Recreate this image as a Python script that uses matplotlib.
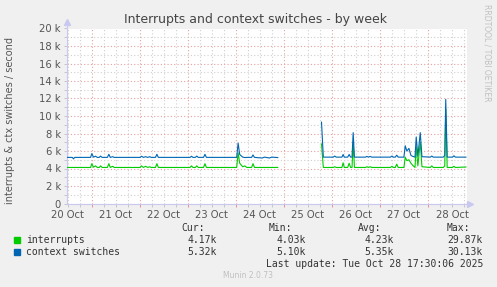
import numpy as np
import matplotlib.pyplot as plt
from matplotlib.ticker import MultipleLocator, FixedLocator, NullFormatter

# time in days since 20 Oct 00:00, values in ops / second
t_part1 = [0.479, 0.60, 0.625, 0.65, 0.98, 1.006, 1.04, 1.083, 1.12, 1.16, 1.1875, 1.22,
           1.33, 1.36, 1.39, 1.44, 1.47, 2.01, 2.04, 2.08, 2.125, 2.17, 2.21, 2.24,
           2.33, 2.36, 2.39, 3.05, 3.08, 3.11, 3.16, 3.19, 3.22, 3.33, 3.36, 3.39,
           4.02, 4.05, 4.083, 4.146, 4.19, 4.23, 4.33, 4.36, 4.39, 4.55, 4.6, 4.7, 4.75, 4.875]
ctx_part1 = [5270, 5270, 5100, 5270, 5270, 5700, 5300, 5400, 5270, 5270, 5420, 5270,
             5270, 5620, 5270, 5350, 5270, 5270, 5400, 5270, 5350, 5270, 5350, 5270,
             5270, 5620, 5270, 5270, 5400, 5270, 5270, 5420, 5270, 5270, 5620, 5270,
             5270, 6900, 5600, 5300, 5250, 5270, 5270, 5550, 5270, 5200, 5300, 5200, 5300, 5250]
int_part1 = [4120, 4120, 4120, 4120, 4120, 4550, 4150, 4300, 4120, 4120, 4300, 4120,
             4120, 4550, 4120, 4250, 4120, 4120, 4300, 4120, 4250, 4120, 4200, 4120,
             4120, 4550, 4120, 4120, 4300, 4120, 4120, 4300, 4120, 4120, 4550, 4120,
             4120, 5800, 4600, 4200, 4300, 4120, 4120, 4550, 4120, 4120, 4120, 4120, 4120, 4120]

t_part2 = [5.785, 5.823, 6.03, 6.06, 6.09, 6.21, 6.235, 6.26, 6.33, 6.36, 6.39, 6.42, 6.444,
           6.47, 6.7, 6.73, 6.76, 6.8, 6.83, 7.22, 7.25, 7.28, 7.32, 7.35, 7.38, 7.5,
           7.527, 7.56, 7.604, 7.646, 7.677, 7.73, 7.756, 7.79, 7.84, 7.875, 8.05, 8.08,
           8.11, 8.32, 8.35, 8.37, 8.40, 8.51, 8.54, 8.57, 8.79]
ctx_part2 = [9300, 5300, 5300, 5420, 5300, 5300, 5600, 5300, 5300, 5600, 5300, 5300, 8100,
             5300, 5300, 5380, 5300, 5380, 5300, 5300, 5420, 5300, 5300, 5520, 5300, 5300,
             6600, 6000, 6300, 5500, 5400, 5300, 7600, 5400, 8100, 5350, 5300, 5420,
             5300, 5300, 5500, 11900, 5300, 5300, 5450, 5300, 5300]
int_part2 = [6800, 4120, 4120, 4200, 4120, 4120, 4650, 4120, 4120, 4600, 4120, 4120, 7000,
             4120, 4120, 4200, 4120, 4200, 4120, 4120, 4250, 4120, 4120, 4500, 4120, 4120,
             5300, 4900, 5000, 4600, 4400, 4120, 6500, 4300, 7000, 4200, 4120, 4300,
             4120, 4120, 4300, 10800, 4120, 4120, 4250, 4120, 4170]

days = ['20 Oct', '21 Oct', '22 Oct', '23 Oct', '24 Oct', '25 Oct', '26 Oct', '27 Oct', '28 Oct']

series = ['interrupts', 'context switches']
cur = ['4.17k', '5.32k']
vmin = ['4.03k', '5.10k']
avg = ['4.23k', '5.35k']
vmax = ['29.87k', '30.13k']
colors = ['#00cc00', '#0066b3']

W, H = 497, 287
fig = plt.figure(figsize=(W / 100, H / 100), dpi=100, facecolor='#f0f0f0')
ax = fig.add_axes([66.5 / W, (H - 203.5) / H, 400.5 / W, 175 / H])
ax.set_facecolor('white')

gap = [np.nan]
t_all = t_part1 + [5.0] + t_part2
ax.plot(t_all, int_part1 + gap + int_part2, color=colors[0], lw=0.8, zorder=3)
ax.plot(t_all, ctx_part1 + gap + ctx_part2, color=colors[1], lw=0.8, zorder=4)

ax.set_xlim(0.479, 8.8125)
ax.set_ylim(0, 20000)

ax.yaxis.set_major_locator(MultipleLocator(2000))
ax.yaxis.set_minor_locator(MultipleLocator(1000))
ax.set_yticklabels([f'{int(v / 1000)} k' if v > 0 else '0' for v in ax.get_yticks()])
ax.xaxis.set_major_locator(FixedLocator(np.arange(1, 9)))
minor_x = [v for v in np.arange(0.5, 9, 0.25) if v % 1 != 0]
ax.xaxis.set_minor_locator(FixedLocator(minor_x))
ax.xaxis.set_major_formatter(NullFormatter())
ax.xaxis.set_minor_formatter(NullFormatter())

ax.grid(which='major', axis='both', color='#e8a0a0', ls=(0, (1, 2)), lw=0.8)
ax.grid(which='minor', axis='both', color='#cfcfcf', ls=(0, (1, 2)), lw=0.8)
ax.set_axisbelow(True)

for i, d in enumerate(days):
    ax.text(i + 0.5, -0.035, d, transform=ax.get_xaxis_transform(), ha='center', va='top',
            fontsize=7.2, color='#555555')

ax.tick_params(axis='both', which='both', length=2, width=0.6, color='#c0c0c0', direction='out')
ax.tick_params(axis='x', which='major', color='#e08080')
ax.tick_params(axis='y', labelsize=7.2, labelcolor='#555555', pad=2)
ax.tick_params(axis='x', pad=1)

for s in ['top', 'right']:
    ax.spines[s].set_visible(False)
for s in ['left', 'bottom']:
    ax.spines[s].set_color('#c8c8f0')
    ax.spines[s].set_linewidth(0.8)
ax.plot([0.479], [20700], marker='^', ms=4, color='#c8c8f0', clip_on=False)
ax.plot([8.88], [0], marker='>', ms=4, color='#c8c8f0', clip_on=False)
ax.spines['left'].set_bounds(0, 20700)
ax.spines['bottom'].set_bounds(0.479, 8.88)

fig.text(255 / W, 1 - 19 / H, 'Interrupts and context switches - by week', ha='center', va='center',
         fontsize=9, color='#444444')
fig.text(10 / W, 1 - 121 / H, 'interrupts & ctx switches / second', rotation=90, ha='center',
         va='center', fontsize=7, color='#555555')
fig.text(487 / W, 1 - 53 / H, 'RRDTOOL / TOBI OETIKER', rotation=270, ha='center', va='center',
         fontsize=5.5, color='#c0c0c0')

mono = dict(family='DejaVu Sans Mono', fontsize=7, color='#333333', va='center')
fig.text(181 / W, 1 - 228 / H, 'Cur:', ha='left', **mono)
fig.text(269 / W, 1 - 228 / H, 'Min:', ha='left', **mono)
fig.text(358 / W, 1 - 228 / H, 'Avg:', ha='left', **mono)
fig.text(447 / W, 1 - 228 / H, 'Max:', ha='left', **mono)
for i, name in enumerate(series):
    y = 1 - (240 + 12 * i) / H
    fig.patches.append(plt.Rectangle((14 / W, y - 3 / H), 6 / W, 6 / H, transform=fig.transFigure,
                                     color=colors[i]))
    fig.text(26 / W, y, name, ha='left', **mono)
    fig.text(217 / W, y, cur[i], ha='right', **mono)
    fig.text(306 / W, y, vmin[i], ha='right', **mono)
    fig.text(394 / W, y, avg[i], ha='right', **mono)
    fig.text(483 / W, y, vmax[i], ha='right', **mono)
fig.text(483 / W, 1 - 264 / H, 'Last update: Tue Oct 28 17:30:06 2025', ha='right', **mono)
fig.text(248 / W, 1 - 276 / H, 'Munin 2.0.73', ha='center', va='center', fontsize=5.5, color='#c0c0c0')

fig.savefig('out.png', dpi=100, facecolor=fig.get_facecolor())
